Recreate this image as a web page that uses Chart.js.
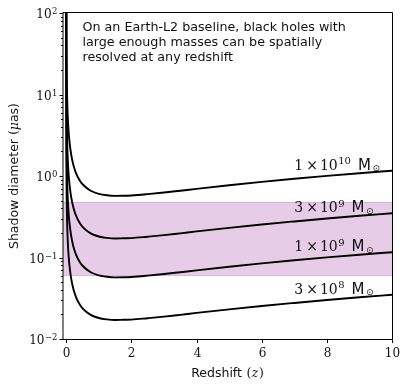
<!DOCTYPE html>
<html>
<head>
<meta charset="utf-8">
<script src="https://cdn.jsdelivr.net/npm/chart.js@4"></script>
<style>
  html, body { margin: 0; padding: 0; background: #fff; }
  canvas { display: block; }
</style>
</head>
<body>
<canvas id="shadow-chart" width="407" height="387"></canvas>
<script>
// redshift grid and shadow diameters (micro-arcsec)
const redshift = [0.00005, 0.0002, 0.0005, 0.001, 0.002, 0.003, 0.005, 0.0075, 0.01, 0.015, 0.02, 0.03, 0.05, 0.075, 0.1, 0.15, 0.2, 0.25, 0.3, 0.4, 0.5, 0.75, 1, 1.25, 1.5, 1.75, 2, 2.5, 3, 3.5, 4, 5, 6, 7, 8, 9, 10];

const shadow1e10 = [4656, 1164, 465.6, 232.8, 116.6, 77.8, 46.8, 31.3, 23.56, 15.8, 11.93, 8.05, 4.94, 3.39, 2.62, 1.848, 1.465, 1.236, 1.085, 0.9, 0.792, 0.659, 0.604, 0.58, 0.571, 0.572, 0.577, 0.599, 0.627, 0.66, 0.695, 0.769, 0.846, 0.924, 1.003, 1.082, 1.162];
const shadow3e9 = [1397, 349.2, 139.7, 69.8, 35.0, 23.3, 14.0, 9.39, 7.07, 4.74, 3.58, 2.415, 1.482, 1.017, 0.786, 0.554, 0.44, 0.371, 0.326, 0.27, 0.238, 0.198, 0.181, 0.174, 0.171, 0.172, 0.173, 0.18, 0.188, 0.198, 0.209, 0.231, 0.254, 0.277, 0.301, 0.325, 0.349];
const shadow1e9 = [465.6, 116.4, 46.6, 23.3, 11.66, 7.78, 4.68, 3.13, 2.356, 1.58, 1.193, 0.805, 0.494, 0.339, 0.262, 0.185, 0.1465, 0.1236, 0.1085, 0.09, 0.0792, 0.0659, 0.0604, 0.058, 0.0571, 0.0572, 0.0577, 0.0599, 0.0627, 0.066, 0.0695, 0.0769, 0.0846, 0.0924, 0.1003, 0.1082, 0.1162];
const shadow3e8 = [139.7, 34.9, 13.97, 6.98, 3.5, 2.33, 1.4, 0.939, 0.707, 0.474, 0.358, 0.2415, 0.148, 0.1017, 0.0786, 0.0554, 0.044, 0.0371, 0.0326, 0.027, 0.0238, 0.0198, 0.0181, 0.0174, 0.0171, 0.0172, 0.0173, 0.018, 0.0188, 0.0198, 0.0209, 0.0231, 0.0254, 0.0277, 0.0301, 0.0325, 0.0349];

// mass labels: coefficient x 10^exponent M_sun
const massCoeff = ['1', '3', '1', '3'];
const massExp = ['10', '9', '9', '8'];

// resolvable band (Earth-L2 baseline)
const bandX = [-0.1, 10];
const bandLow = 0.06;
const bandHigh = 0.475;

// ticks
const xTicks = [0, 2, 4, 6, 8, 10];
const yTicks = [100, 10, 1, 0.1, 0.01];
const yTickExp = ['2', '1', '0', '\u22121', '\u22122'];

const noteLines = [
    'On an Earth-L2 baseline, black holes with',
    'large enough masses can be spatially',
    'resolved at any redshift'
];

const SERIF = '"DejaVu Serif", serif';
const SANS = '"DejaVu Sans", sans-serif';

function toPoints(ys) {
    return redshift.map((z, i) => ({ x: z, y: ys[i] }));
}

const curves = [shadow1e10, shadow3e9, shadow1e9, shadow3e8];

// draw a row of text pieces with different fonts; align 'left' | 'center' | 'right'
function drawRuns(ctx, runs, x, y, align) {
    let total = 0;
    runs.forEach(r => {
        ctx.font = r.f;
        r.w = ctx.measureText(r.t).width;
        total += (r.gap || 0) + r.w;
    });
    let cx = align === 'center' ? x - total / 2 : align === 'right' ? x - total : x;
    ctx.textAlign = 'left';
    ctx.textBaseline = 'alphabetic';
    runs.forEach(r => {
        cx += r.gap || 0;
        ctx.font = r.f;
        ctx.fillText(r.t, cx, y + (r.dy || 0));
        cx += r.w;
    });
}

const decorations = {
    id: 'decorations',
    afterDatasetsDraw(chart) {
        const { ctx, chartArea: a, scales: { x, y } } = chart;
        ctx.save();
        ctx.fillStyle = '#111';
        ctx.strokeStyle = '#000';
        ctx.lineWidth = 1;

        // frame
        ctx.beginPath();
        ctx.moveTo(a.left, a.top - 0.5);
        ctx.lineTo(a.right + 0.5, a.top - 0.5);
        ctx.lineTo(a.right + 0.5, a.bottom + 0.5);
        ctx.lineTo(a.left, a.bottom + 0.5);
        ctx.stroke();
        ctx.beginPath();
        ctx.moveTo(a.left, a.top - 0.5);
        ctx.lineTo(a.left, a.bottom + 0.5);
        ctx.stroke();

        // x ticks and labels
        xTicks.forEach(v => {
            const px = Math.round(x.getPixelForValue(v)) + 0.5;
            ctx.beginPath();
            ctx.moveTo(px, a.bottom + 0.5);
            ctx.lineTo(px, a.bottom + 4);
            ctx.stroke();
            ctx.font = '12px ' + SERIF;
            ctx.textAlign = 'center';
            ctx.textBaseline = 'alphabetic';
            ctx.fillText(String(v), px, a.bottom + 17.5);
        });

        // y major ticks and labels
        yTicks.forEach((v, i) => {
            const py = Math.round(y.getPixelForValue(v)) + 0.5;
            ctx.beginPath();
            ctx.moveTo(a.left - 3.5, py);
            ctx.lineTo(a.left, py);
            ctx.stroke();
            drawRuns(ctx, [
                { t: '10', f: '12px ' + SERIF },
                { t: yTickExp[i], f: '8.5px ' + SERIF, dy: -4.5, gap: 0.5 }
            ], a.left - 5.5, py + 4.8, 'right');
        });

        // y minor ticks
        for (let k = -2; k < 2; k++) {
            for (let m = 2; m <= 9; m++) {
                const py = Math.round(y.getPixelForValue(m * Math.pow(10, k))) + 0.5;
                ctx.beginPath();
                ctx.moveTo(a.left - 2, py);
                ctx.lineTo(a.left, py);
                ctx.stroke();
            }
        }

        // mass labels above each curve
        const iz = redshift.indexOf(7);
        curves.forEach((ys, i) => {
            const px = x.getPixelForValue(7);
            const py = y.getPixelForValue(ys[iz] * 1.3);
            drawRuns(ctx, [
                { t: massCoeff[i], f: '14px ' + SERIF },
                { t: '\u00d7', f: '14px ' + SERIF, gap: 3 },
                { t: '10', f: '14px ' + SERIF, gap: 2 },
                { t: massExp[i], f: '10px ' + SERIF, dy: -5.5, gap: 0.5 },
                { t: 'M', f: '15px ' + SANS, gap: 7 },
                { t: '\u2299', f: '9px ' + SANS, dy: 1.5, gap: 1.5 }
            ], px, py, 'left');
        });

        // note text
        ctx.font = '12.7px ' + SANS;
        ctx.textAlign = 'left';
        noteLines.forEach((line, i) => {
            ctx.fillText(line, 82.5, 30.7 + i * 15);
        });

        // axis titles
        drawRuns(ctx, [
            { t: 'Redshift', f: '12.5px ' + SANS },
            { t: '(', f: '12.5px ' + SERIF, gap: 4.5 },
            { t: 'z', f: 'italic 12.5px ' + SERIF, gap: 0.5 },
            { t: ')', f: '12.5px ' + SERIF, gap: 0.5 }
        ], (a.left + a.right) / 2, 376.7, 'center');

        ctx.translate(17.5, (a.top + a.bottom) / 2);
        ctx.rotate(-Math.PI / 2);
        drawRuns(ctx, [
            { t: 'Shadow diameter (', f: '12.5px ' + SANS },
            { t: '\u03bc', f: 'italic 12.5px ' + SERIF },
            { t: 'as)', f: '12.5px ' + SANS }
        ], 0, 0, 'center');

        ctx.restore();
    }
};

const datasets = curves.map(ys => ({
    data: toPoints(ys),
    borderColor: '#000',
    borderWidth: 1.9,
    fill: false,
    cubicInterpolationMode: 'monotone',
    order: 0
}));

datasets.push({
    data: bandX.map(v => ({ x: v, y: bandHigh })),
    borderColor: 'rgba(128,0,128,0.22)',
    borderWidth: 1,
    fill: false,
    order: 1
});
datasets.push({
    data: bandX.map(v => ({ x: v, y: bandLow })),
    borderColor: 'rgba(128,0,128,0.22)',
    borderWidth: 1,
    backgroundColor: 'rgba(128,0,128,0.2)',
    fill: '-1',
    order: 1
});

const shadowConfig = {
    type: 'line',
    data: { datasets: datasets },
    options: {
        responsive: false,
        animation: false,
        devicePixelRatio: 1,
        layout: { padding: { left: 63, right: 15, top: 13, bottom: 48 } },
        elements: { point: { radius: 0 } },
        plugins: {
            legend: { display: false },
            tooltip: { enabled: false }
        },
        scales: {
            x: { type: 'linear', min: -0.1, max: 10, display: false },
            y: { type: 'logarithmic', min: 0.01, max: 100, display: false }
        }
    },
    plugins: [decorations]
};

var shadowChart = new Chart(
    document.getElementById('shadow-chart'),
    shadowConfig
);
</script>
</body>
</html>
